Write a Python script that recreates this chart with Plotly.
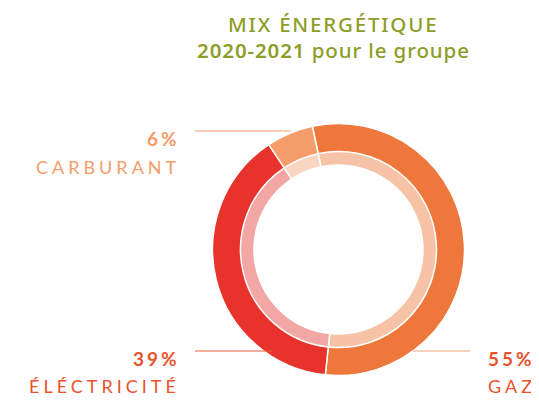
import plotly.graph_objects as go

# ---- data ----
categories = ["GAZ", "ÉLÉCTRICITÉ", "CARBURANT"]
values = [55, 39, 6]
title_line1 = "MIX ÉNERGÉTIQUE"
title_line2_bold = "2020-2021"
title_line2_rest = "pour le groupe"

# ---- styles ----
OX, OY = 8, 8              # page body margin of the html page
W, H = 531, 393            # figure size so it fits in the 539x401 window
outer_colors = ["#EE773B", "#E8332D", "#F49D6B"]
inner_colors = ["#F7C3A6", "#F2A7A4", "#FAD5C1"]
label_colors = ["#E8532B", "#E8532B", "#F49D6B"]
line_colors = ["#F2A27F", "#E8603A", "#F49D6B"]
title_color = "#8E9D28"
FONT = "Noto Sans"
LFONT = "Lato"

cx, cy = 338.5, 249.5
R_out, R_mid, R_in = 126, 98, 84.5


def px(x):
    return (x - OX) / W


def py(y):
    return 1 - (y - OY) / H


def dom(r):
    return dict(x=[px(cx - r), px(cx + r)], y=[py(cy + r), py(cy - r)])


rotation = -12

fig = go.Figure()
fig.add_trace(go.Pie(
    labels=categories, values=values, sort=False, direction="clockwise",
    rotation=rotation, hole=R_in / (R_mid + 1), domain=dom(R_mid + 1),
    marker=dict(colors=inner_colors, line=dict(color="white", width=1.5)),
    textinfo="none", hoverinfo="label+percent", showlegend=False,
))
fig.add_trace(go.Pie(
    labels=categories, values=values, sort=False, direction="clockwise",
    rotation=rotation, hole=R_mid / R_out, domain=dom(R_out),
    marker=dict(colors=outer_colors, line=dict(color="white", width=1.5)),
    textinfo="none", hoverinfo="label+percent", showlegend=False,
))

annotations = []
# title
annotations.append(dict(
    x=px(333), y=py(8), xref="paper", yref="paper", showarrow=False,
    xanchor="center", yanchor="top",
    text="<span style='letter-spacing:1.8px'>" + title_line1 + "</span>",
    font=dict(family=FONT, size=20.5, color=title_color, weight=500),
))
annotations.append(dict(
    x=px(333), y=py(50), xref="paper", yref="paper", showarrow=False,
    xanchor="center", yanchor="middle",
    text="<span style='letter-spacing:0.9px'><span style='font-weight:600'>" + title_line2_bold
         + "</span> " + title_line2_rest + "</span>",
    font=dict(family=FONT, size=20.5, color=title_color, weight=500),
))

pct = [f"{v}%" for v in values]
SP = "letter-spacing:4px"
SP2 = "letter-spacing:3px"
# GAZ (right bottom)
annotations.append(dict(x=px(486), y=py(358), xref="paper", yref="paper", showarrow=False,
                        xanchor="left", yanchor="middle",
                        text=f"<span style='{SP2}'><b>{pct[0]}</b></span>",
                        font=dict(family=LFONT, size=19, color=label_colors[0])))
annotations.append(dict(x=px(486), y=py(386), xref="paper", yref="paper", showarrow=False,
                        xanchor="left", yanchor="middle",
                        text=f"<span style='{SP}'>{categories[0]}</span>",
                        font=dict(family=LFONT, size=18, color=label_colors[0])))
# ELEC (left bottom)
annotations.append(dict(x=px(182), y=py(358), xref="paper", yref="paper", showarrow=False,
                        xanchor="right", yanchor="middle",
                        text=f"<span style='{SP2}'><b>{pct[1]}</b></span>",
                        font=dict(family=LFONT, size=19, color=label_colors[1])))
annotations.append(dict(x=px(182), y=py(386), xref="paper", yref="paper", showarrow=False,
                        xanchor="right", yanchor="middle",
                        text=f"<span style='{SP}'>{categories[1]}</span>",
                        font=dict(family=LFONT, size=18, color=label_colors[1])))
# CARB (left top)
annotations.append(dict(x=px(182), y=py(139), xref="paper", yref="paper", showarrow=False,
                        xanchor="right", yanchor="middle",
                        text=f"<span style='{SP2}'><b>{pct[2]}</b></span>",
                        font=dict(family=LFONT, size=19, color=label_colors[2])))
annotations.append(dict(x=px(182), y=py(167), xref="paper", yref="paper", showarrow=False,
                        xanchor="right", yanchor="middle",
                        text=f"<span style='{SP}'>{categories[2]}</span>",
                        font=dict(family=LFONT, size=18, color=label_colors[2])))

shapes = [
    dict(type="line", xref="paper", yref="paper", x0=px(413), x1=px(470), y0=py(351), y1=py(351),
         line=dict(color=line_colors[0], width=1.2)),
    dict(type="line", xref="paper", yref="paper", x0=px(195), x1=px(272), y0=py(351), y1=py(351),
         line=dict(color=line_colors[1], width=1.2)),
    dict(type="line", xref="paper", yref="paper", x0=px(195), x1=px(291), y0=py(131), y1=py(131),
         line=dict(color=line_colors[2], width=1.2)),
]

fig.update_layout(
    width=W, height=H, margin=dict(l=0, r=0, t=0, b=0),
    paper_bgcolor="white", plot_bgcolor="white",
    annotations=annotations, shapes=shapes, showlegend=False,
)

fig.write_html("out.html")
